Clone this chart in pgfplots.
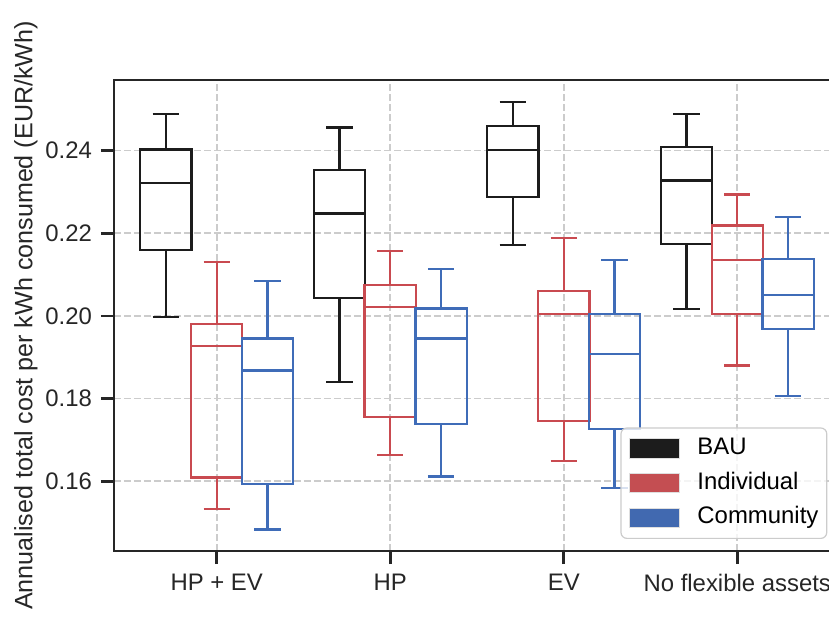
\documentclass[border=0pt]{standalone}
\usepackage{pgfplots}
\pgfplotsset{compat=1.18}
\usepgfplotslibrary{statistics}
\usepackage{fontspec}
\setmainfont{Liberation Sans}
\definecolor{bau}{HTML}{1C1C1C}
\definecolor{ind}{HTML}{C94A50}
\definecolor{com}{HTML}{3F6CB8}
\definecolor{indfill}{HTML}{C44E52}
\definecolor{comfill}{HTML}{4169B0}
\definecolor{gridc}{HTML}{CCCCCC}
\definecolor{spine}{HTML}{262626}
\newcommand{\tickfont}{\fontsize{12}{14}\selectfont}
\newcommand{\labfont}{\fontsize{12.6}{15}\selectfont}
\begin{document}
\begin{tikzpicture}
\path[use as bounding box] (-57bp,-35bp) rectangle (357.5bp,275.5bp);
\clip (-57bp,-35bp) rectangle (357.5bp,275.5bp);
\begin{axis}[
  at={(0,0)}, anchor=south west,
  scale only axis, width=363bp, height=235.5bp,
  xmin=-0.592, xmax=3.592, ymin=0.1431, ymax=0.2571,
  xtick={0,1,2,3},
  xticklabels={HP + EV, HP, EV, No flexible assets},
  ytick={0.16,0.18,0.20,0.22,0.24},
  /pgf/number format/fixed,
  /pgf/number format/fixed zerofill,
  /pgf/number format/precision=2,
  /pgf/number format/assume math mode=true,
  xtick pos=bottom, ytick pos=left, tick align=outside,
  major tick length=6.5bp,
  tick style={spine, line width=1.35bp},
  axis line style={spine, line width=1.4bp},
  ticklabel style={font=\tickfont, text=spine},
  xticklabel style={yshift=-1.5bp},
  yticklabel style={xshift=-1bp},
  grid=major,
  major grid style={gridc, line width=0.85bp, dash pattern=on 3.7bp off 1.3bp},
  ylabel={Annualised total cost per kWh consumed (EUR/kWh)},
  every axis y label/.style={at={(axis description cs:-0.1212,0.5)}, rotate=90, anchor=center, font=\labfont, text=spine},
  legend style={at={(axis description cs:0.9826,0.0255)}, anchor=south east,
    draw=gridc, line width=0.6bp, rounded corners=3bp, fill=white, fill opacity=0.8, text opacity=1,
    font=\tickfont, inner xsep=4.2bp, inner ysep=4.8bp, row sep=6.3bp,
    nodes={inner sep=0pt, text height=8.6bp, text depth=2.4bp, anchor=west}},
  legend cell align=left,
  legend image code/.code={
    \draw[sharp corners, #1, fill opacity=1, draw=gray!25, line width=0.5bp] (0bp,-4.85bp) rectangle (25bp,4.85bp);
    \path (33.5bp,0bp);
  },
  boxplot/draw direction=y,
  every boxplot/.style={line width=1.15bp, solid},
]
\addlegendimage{fill=bau}
\addlegendentry{BAU}
\addlegendimage{fill=indfill}
\addlegendentry{Individual}
\addlegendimage{fill=comfill}
\addlegendentry{Community}

% HP + EV
\addplot[draw=bau, line width=1.15bp, forget plot, boxplot prepared={draw position=-0.293, lower whisker=0.1998, lower quartile=0.2160, median=0.2322, upper quartile=0.2403, upper whisker=0.2488, box extend=0.295, whisker extend=0.152}] coordinates {};
\addplot[draw=ind, line width=1.15bp, forget plot, boxplot prepared={draw position=0, lower whisker=0.1532, lower quartile=0.1609, median=0.1927, upper quartile=0.1981, upper whisker=0.2130, box extend=0.295, whisker extend=0.152}] coordinates {};
\addplot[draw=com, line width=1.15bp, forget plot, boxplot prepared={draw position=0.293, lower whisker=0.1483, lower quartile=0.1594, median=0.1868, upper quartile=0.1945, upper whisker=0.2085, box extend=0.295, whisker extend=0.152}] coordinates {};
% HP
\addplot[draw=bau, line width=1.15bp, forget plot, boxplot prepared={draw position=0.707, lower whisker=0.1840, lower quartile=0.2044, median=0.2248, upper quartile=0.2353, upper whisker=0.2456, box extend=0.295, whisker extend=0.152}] coordinates {};
\addplot[draw=ind, line width=1.15bp, forget plot, boxplot prepared={draw position=1, lower whisker=0.1664, lower quartile=0.1756, median=0.2021, upper quartile=0.2074, upper whisker=0.2157, box extend=0.295, whisker extend=0.152}] coordinates {};
\addplot[draw=com, line width=1.15bp, forget plot, boxplot prepared={draw position=1.293, lower whisker=0.1611, lower quartile=0.1739, median=0.1945, upper quartile=0.2018, upper whisker=0.2113, box extend=0.295, whisker extend=0.152}] coordinates {};
% EV
\addplot[draw=bau, line width=1.15bp, forget plot, boxplot prepared={draw position=1.707, lower whisker=0.2172, lower quartile=0.2287, median=0.2401, upper quartile=0.2459, upper whisker=0.2517, box extend=0.295, whisker extend=0.152}] coordinates {};
\addplot[draw=ind, line width=1.15bp, forget plot, boxplot prepared={draw position=2, lower whisker=0.1648, lower quartile=0.1745, median=0.2005, upper quartile=0.2061, upper whisker=0.2189, box extend=0.295, whisker extend=0.152}] coordinates {};
\addplot[draw=com, line width=1.15bp, forget plot, boxplot prepared={draw position=2.293, lower whisker=0.1584, lower quartile=0.1726, median=0.1908, upper quartile=0.2004, upper whisker=0.2136, box extend=0.295, whisker extend=0.152}] coordinates {};
% No flexible assets
\addplot[draw=bau, line width=1.15bp, forget plot, boxplot prepared={draw position=2.707, lower whisker=0.2017, lower quartile=0.2174, median=0.2328, upper quartile=0.2408, upper whisker=0.2489, box extend=0.295, whisker extend=0.152}] coordinates {};
\addplot[draw=ind, line width=1.15bp, forget plot, boxplot prepared={draw position=3, lower whisker=0.1880, lower quartile=0.2005, median=0.2135, upper quartile=0.2219, upper whisker=0.2294, box extend=0.295, whisker extend=0.152}] coordinates {};
\addplot[draw=com, line width=1.15bp, forget plot, boxplot prepared={draw position=3.293, lower whisker=0.1807, lower quartile=0.1969, median=0.2050, upper quartile=0.2137, upper whisker=0.2240, box extend=0.295, whisker extend=0.152}] coordinates {};
\end{axis}
\end{tikzpicture}
\end{document}
